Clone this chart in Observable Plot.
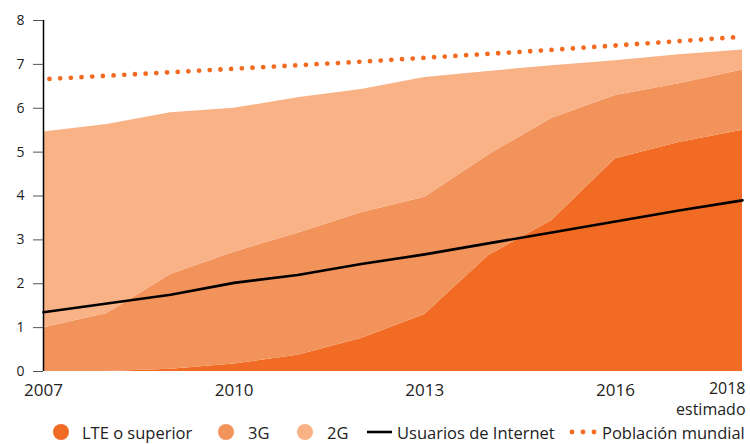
<!DOCTYPE html>
<html><head><meta charset="utf-8">
<script src="https://cdn.jsdelivr.net/npm/d3@7"></script>
<script src="https://cdn.jsdelivr.net/npm/@observablehq/plot@0.6"></script>
<style>
body{margin:0;background:#fff;font-family:"Open Sans",sans-serif;}
#wrap{width:750px;position:relative;}
#legend{position:relative;height:24px;font-size:16.5px;color:#222;}
.item{position:absolute;top:0;height:24px;display:flex;align-items:center;white-space:nowrap;}
.item svg{display:block;}
</style></head><body>
<div id="wrap"><div id="chart"></div><div id="legend"></div></div>
<script>
// ---- data ----
const years = [2007, 2008, 2009, 2010, 2011, 2012, 2013, 2014, 2015, 2016, 2017, 2018];
const techs = ["LTE o superior", "3G", "2G"];
const lte = [0, 0, 0.05, 0.17, 0.37, 0.75, 1.30, 2.64, 3.44, 4.85, 5.22, 5.50];
const g3  = [1.00, 1.32, 2.16, 2.55, 2.78, 2.87, 2.67, 2.29, 2.33, 1.44, 1.34, 1.37];
const g2  = [4.46, 4.31, 3.69, 3.28, 3.09, 2.81, 2.73, 1.91, 1.20, 0.79, 0.66, 0.46];
const internet   = [1.35, 1.55, 1.75, 2.02, 2.20, 2.45, 2.67, 2.92, 3.17, 3.42, 3.67, 3.90];
const population = [6.66, 6.74, 6.82, 6.90, 6.98, 7.06, 7.15, 7.24, 7.33, 7.43, 7.53, 7.63];
const xTicks = [2007, 2010, 2013, 2016];
const xTickLabels = ["2007", "2010", "2013", "2016"];
const lastTick = 2018;
const lastTickLabel = "2018";
const lastTickNote = "estimado";
const yTicks = [0, 1, 2, 3, 4, 5, 6, 7, 8];
const lineLabels = ["Usuarios de Internet", "Población mundial"];

// ---- styles ----
const techColors = ["#F16B24", "#F3935C", "#F8B286"];
const popColor = "#F26B21";

const seriesVals = [lte, g3, g2];
const long = [];
techs.forEach((t, i) => years.forEach((y, j) => long.push({year: y, tech: t, value: seriesVals[i][j]})));

const chart = Plot.plot({
  width: 750, height: 420,
  marginLeft: 43, marginRight: 8, marginTop: 20, marginBottom: 49,
  style: {fontFamily: "'Open Sans', sans-serif", color: "#222", background: "white", overflow: "visible"},
  x: {domain: [2007, 2018], label: null},
  y: {domain: [0, 8], label: null},
  color: {domain: techs, range: techColors},
  marks: [
    Plot.areaY(long, {x: "year", y: "value", fill: "tech", order: techs}),
    Plot.lineY(years, {x: d => d, y: (d, i) => internet[i], stroke: "#000", strokeWidth: 2.6}),
    Plot.lineY(years, {x: d => d, y: (d, i) => population[i], stroke: popColor, strokeWidth: 4.8,
      strokeDasharray: "0,10.7", strokeLinecap: "round", strokeDashoffset: 4.7}),
    Plot.ruleX([2007], {y1: 0, y2: 8, stroke: "#000", strokeWidth: 1.5}),
    Plot.axisY(yTicks, {tickSize: 10, tickPadding: 9, fontSize: 14, stroke: "#555", fill: "#222", label: null}),
    Plot.axisX(xTicks, {tickSize: 0, tickPadding: 12, fontSize: 17, fill: "#222", label: null,
      tickFormat: (d) => xTickLabels[xTicks.indexOf(d)]}),
    Plot.axisX([lastTick], {tickSize: 0, tickPadding: 11, fontSize: 16, fill: "#222", label: null,
      textAnchor: "end", dx: 3, tickFormat: () => lastTickLabel}),
    Plot.axisX([lastTick], {tickSize: 0, tickPadding: 32, fontSize: 16, fill: "#222", label: null,
      textAnchor: "end", dx: 3, tickFormat: () => lastTickNote})
  ]
});
document.getElementById("chart").appendChild(chart);

// ---- legend ----
const legend = d3.select("#legend");
const items = [
  {kind: "dot", color: techColors[0], label: techs[0], left: 53},
  {kind: "dot", color: techColors[1], label: techs[1], left: 218},
  {kind: "dot", color: techColors[2], label: techs[2], left: 297},
  {kind: "line", color: "#000", label: lineLabels[0], left: 367},
  {kind: "dots", color: popColor, label: lineLabels[1], left: 569}
];
items.forEach(it => {
  const div = legend.append("div").attr("class", "item").style("left", it.left + "px");
  if (it.kind === "dot") {
    const s = div.append("svg").attr("width", 16).attr("height", 16);
    s.append("circle").attr("cx", 8).attr("cy", 8).attr("r", 8).attr("fill", it.color);
    div.append("span").style("margin-left", (it.label.length > 3 ? 13 : 14) + "px").text(it.label);
  } else if (it.kind === "line") {
    const s = div.append("svg").attr("width", 25).attr("height", 16);
    s.append("line").attr("x1", 0).attr("x2", 25).attr("y1", 8).attr("y2", 8).attr("stroke", it.color).attr("stroke-width", 2.6);
    div.append("span").style("margin-left", "5px").text(it.label);
  } else {
    const s = div.append("svg").attr("width", 29).attr("height", 16);
    [3, 14, 25].forEach(cx => s.append("circle").attr("cx", cx).attr("cy", 8).attr("r", 2.4).attr("fill", it.color));
    div.append("span").style("margin-left", "4px").text(it.label);
  }
});
</script>
</body></html>
